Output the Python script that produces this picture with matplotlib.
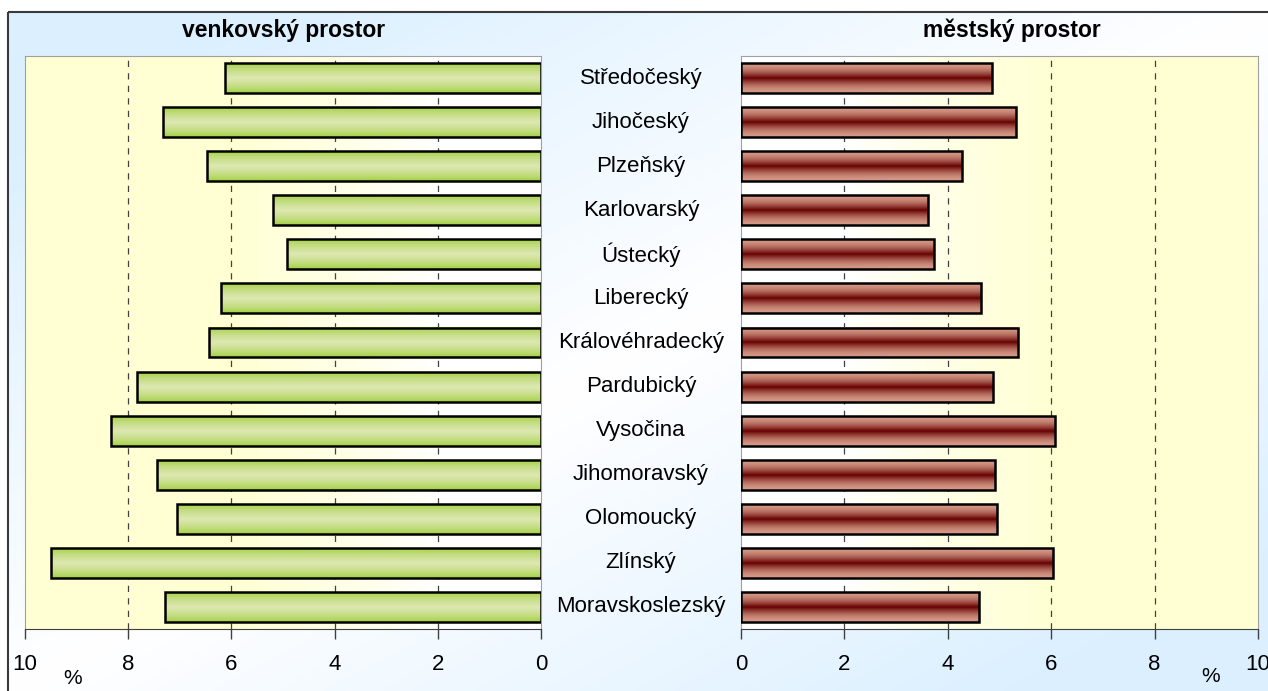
import numpy as np
import matplotlib.pyplot as plt
from matplotlib.patches import Rectangle
from matplotlib.transforms import blended_transform_factory

# regiony, shora dolu
regions = ['Středočeský', 'Jihočeský', 'Plzeňský', 'Karlovarský', 'Ústecký',
           'Liberecký', 'Královéhradecký', 'Pardubický', 'Vysočina',
           'Jihomoravský', 'Olomoucký', 'Zlínský', 'Moravskoslezský']
rural = [6.12, 7.33, 6.47, 5.19, 4.93, 6.20, 6.43, 7.83, 8.34, 7.44, 7.05, 9.50, 7.29]
urban = [4.85, 5.31, 4.27, 3.62, 3.73, 4.65, 5.35, 4.87, 6.07, 4.91, 4.95, 6.03, 4.60]
ticks = [0, 2, 4, 6, 8, 10]
titles = ['venkovský prostor', 'městský prostor']

W, H = 1268, 691
plt.rcParams['font.family'] = ['Liberation Sans', 'DejaVu Sans']
fig = plt.figure(figsize=(W / 100, H / 100), dpi=100)

# pozadi grafu - svetle modry prechod
bg = fig.add_axes([0, 0, 1, 1], zorder=-10)
bg.axis('off')
yy, xx = np.mgrid[0:H:4, 0:W:4]
f = np.clip(np.abs(xx / W + yy / H - 1.0) / 0.8, 0, 1)
blue = np.array([0.86, 0.94, 1.0])
img = 1 + (blue - 1) * f[..., None]
bg.imshow(img, extent=(8, W, H, 12), aspect='auto', interpolation='bilinear')
bg.add_patch(Rectangle((8, 12), W + 20, H + 20, fill=False,
                       edgecolor='#3a3a3a', lw=1.5))
bg.set_xlim(0, W)
bg.set_ylim(H, 0)


def bar_gradient(edge, mid, power=1.0, n=60):
    t = np.linspace(0, 1, n)
    w = (1 - np.abs(2 * t - 1)) ** power
    edge = np.array(edge)
    mid = np.array(mid)
    return (edge + (mid - edge) * w[:, None])[:, None, :]


def draw_panel(ax, values, grad, flip):
    n = len(values)
    # plot area: zluta na vnejsi strane, bila u nuly
    v = np.linspace(0, 10, 300)
    k = np.clip((v - 2.0) / 4.0, 0, 1) ** 0.8
    yellow = np.array([1.0, 1.0, 0.83])
    area = 1 + (yellow - 1) * k[:, None]
    ax.imshow(area[None, :, :], extent=(0, 10, n - 0.5, -0.5), aspect='auto',
              interpolation='bilinear', zorder=0)
    for t in ticks[1:-1]:
        ax.axvline(t, color='#404040', lw=0.9, ls=(0, (5, 5)), zorder=1)
    h = 0.68
    for i, val in enumerate(values):
        ax.imshow(grad, extent=(0, val, i + h / 2, i - h / 2), aspect='auto',
                  interpolation='bilinear', zorder=2)
    ax.barh(range(n), values, height=h, fill=False, edgecolor='black',
            lw=1.8, zorder=3)
    ax.set_xlim((10, 0) if flip else (0, 10))
    ax.set_ylim(n - 0.5, -0.5)
    ax.set_xticks(ticks)
    ax.set_yticks([])
    ax.tick_params(axis='x', direction='out', length=7, width=1,
                   color='#404040', labelsize=16, pad=11)
    for s in ax.spines.values():
        s.set_color('#a0a0a0')
    ax.spines['bottom'].set_color('#404040')


green = bar_gradient([0.60, 0.80, 0.20], [0.87, 0.91, 0.70], power=0.6)
red = bar_gradient([0.84, 0.60, 0.53], [0.40, 0.0, 0.0], power=1.8)

bottom = (H - 629) / H
height = 573 / H
ax_l = fig.add_axes([25 / W, bottom, 516 / W, height])
ax_r = fig.add_axes([741 / W, bottom, 517 / W, height])
draw_panel(ax_l, rural, green, True)
draw_panel(ax_r, urban, red, False)

fig.text(284 / W, 1 - 30 / H, titles[0], ha='center', va='center',
         fontsize=16.5, fontweight='bold')
fig.text(1012 / W, 1 - 30 / H, titles[1], ha='center', va='center',
         fontsize=16.5, fontweight='bold')

trans = blended_transform_factory(fig.transFigure, ax_l.transData)
for i, name in enumerate(regions):
    ax_l.text(641 / W, i, name, transform=trans, ha='center', va='center',
              fontsize=16, clip_on=False)

fig.text(73 / W, 1 - 678 / H, '%', ha='center', va='center', fontsize=15)
fig.text(1211 / W, 1 - 676 / H, '%', ha='center', va='center', fontsize=15)

fig.savefig('out.png', dpi=100)
